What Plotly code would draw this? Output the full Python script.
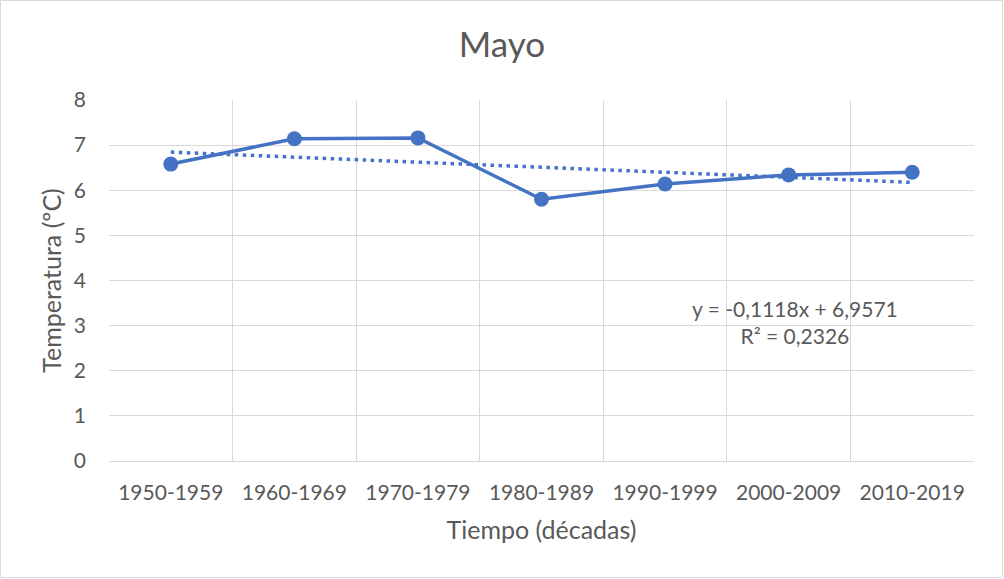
import plotly.graph_objects as go

decades = ["1950-1959", "1960-1969", "1970-1979", "1980-1989", "1990-1999", "2000-2009", "2010-2019"]
temps = [6.58, 7.14, 7.16, 5.80, 6.14, 6.34, 6.40]
trend_slope = -0.1118
trend_intercept = 6.9571
equation_text = "y = -0,1118x + 6,9571<br>R² = 0,2326"

blue = "#4472C4"
grey_text = "#595959"
font_family = "Lato, 'Open Sans', sans-serif"

trend_vals = [trend_intercept + trend_slope * (i + 1) for i in range(len(decades))]

fig = go.Figure()
fig.add_trace(go.Scatter(
    x=decades, y=trend_vals, mode="lines",
    line=dict(color=blue, width=3.5, dash="3.5px,4.5px"),
    showlegend=False, hoverinfo="skip"))
fig.add_trace(go.Scatter(
    x=decades, y=temps, mode="lines+markers",
    line=dict(color=blue, width=3.5),
    marker=dict(color=blue, size=15),
    showlegend=False))

L, R, T, B = 109, 30, 100, 118
W, H = 1004, 579
pw, ph = W - L - R, H - T - B

fig.update_layout(
    width=W, height=H,
    margin=dict(l=L, r=R, t=T, b=B),
    paper_bgcolor="white", plot_bgcolor="white",
    font=dict(family=font_family, color=grey_text, size=21),
    title=dict(text="Mayo", x=0.5, xref="container", y=1 - 45 / H, yanchor="middle",
               font=dict(size=35, color=grey_text, family=font_family)),
    xaxis=dict(
        type="category", categoryorder="array", categoryarray=decades,
        range=[-0.5, 6.5], tickson="boundaries", ticks="",
        showgrid=True, gridcolor="#D9D9D9", gridwidth=1.3,
        showline=True, linecolor="#D9D9D9", linewidth=1.3,
        ticklabelstandoff=13,
        tickfont=dict(size=21, color=grey_text),
        title=dict(text="Tiempo (décadas)", font=dict(size=25, color=grey_text), standoff=18),
        fixedrange=True, zeroline=False,
    ),
    yaxis=dict(
        range=[0, 8], dtick=1, tick0=0,
        showgrid=True, gridcolor="#D9D9D9", gridwidth=1.3,
        showline=False, zeroline=False, ticks="",
        ticklabelstandoff=22,
        tickfont=dict(size=21, color=grey_text),
        title=dict(text="Temperatura (ºC)", font=dict(size=25, color=grey_text), standoff=5),
        fixedrange=True,
    ),
    annotations=[dict(
        x=5.05, y=3.08, xref="x", yref="y", text=equation_text, showarrow=False,
        align="center", font=dict(size=21, color=grey_text, family=font_family))],
    shapes=[dict(
        type="rect", xref="paper", yref="paper",
        x0=(0.5 - L) / pw, x1=(W - 1.5 - L) / pw,
        y0=-(B - 1.5) / ph, y1=1 + (T - 0.5) / ph,
        line=dict(color="#D9D9D9", width=1), fillcolor="rgba(0,0,0,0)", layer="below")],
)

fig.write_html("out.html", config={"displayModeBar": False},
               post_script="document.body.style.margin='0';")
